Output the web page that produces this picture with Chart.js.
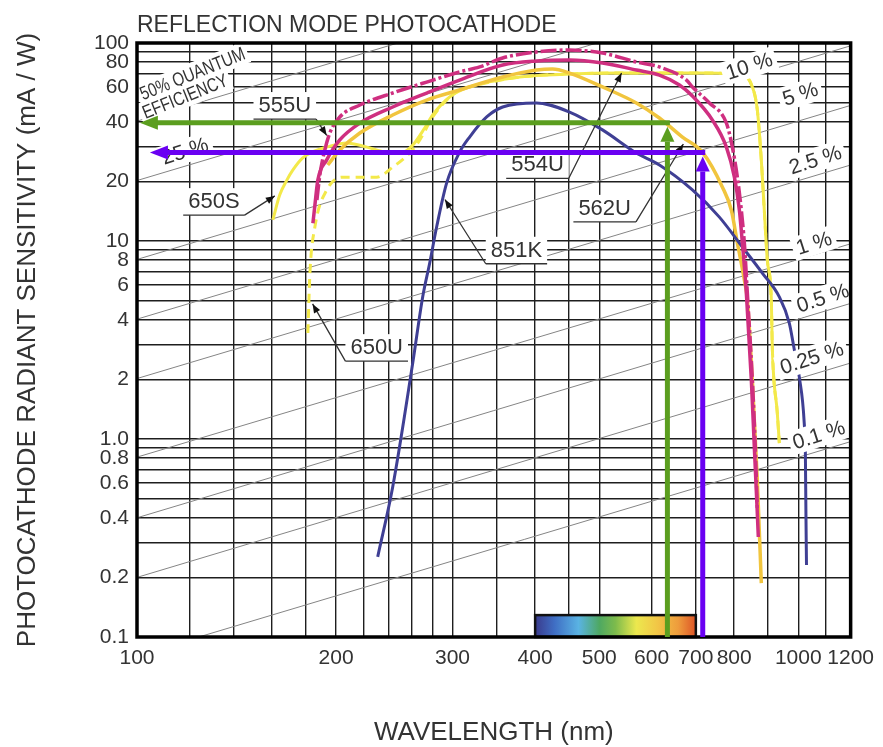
<!DOCTYPE html>
<html>
<head>
<meta charset="utf-8">
<script src="https://cdn.jsdelivr.net/npm/chart.js@4.4.0/dist/chart.umd.min.js"></script>
<style>
  html, body { margin: 0; padding: 0; background: #fff; }
</style>
</head>
<body>
<canvas id="chart" width="883" height="747"></canvas>
<script>
// axis grid + tick labels
const xGrid = [100, 120, 140, 160, 180, 200, 220, 240, 260, 280, 300, 350, 400, 450, 500, 600, 700, 800, 900, 1000, 1100, 1200];
const xTickLabels = [100, 200, 300, 400, 500, 600, 700, 800, 1000, 1200];
const yGrid = [0.1, 0.2, 0.3, 0.4, 0.5, 0.6, 0.7, 0.8, 0.9, 1, 2, 3, 4, 5, 6, 7, 8, 9, 10, 20, 30, 40, 50, 60, 70, 80, 90, 100];
const yTickValues = [0.1, 0.2, 0.4, 0.6, 0.8, 1, 2, 4, 6, 8, 10, 20, 40, 60, 80, 100];
const yTickText = ['0.1', '0.2', '0.4', '0.6', '0.8', '1.0', '2', '4', '6', '8', '10', '20', '40', '60', '80', '100'];

// photocathode curves (wavelength nm, sensitivity mA/W)
const wl555U = [187.1, 189, 192.3, 195.7, 202.6, 217.3, 243.6, 274.2, 307.5, 329.7, 357.2, 402, 451, 505.7, 569.1, 616.6, 677.4, 691.7, 733.9, 778.6, 794.9, 808.9, 820.2, 828.8, 837.5, 852.2, 861, 867.1];
const s555U = [16.1, 21.5, 28.8, 35.1, 42.3, 48.6, 55.9, 63.5, 71.4, 75.7, 84, 90.1, 92.2, 89, 80.2, 75.7, 65, 60, 49.8, 39.4, 29.8, 21, 14.3, 9.77, 5.46, 1.99, 0.91, 0.44];

const wl554U = [184.5, 185.8, 187.7, 193.6, 202.6, 217.3, 243.6, 274.2, 307.5, 357.2, 402, 451, 505.7, 569.1, 616.6, 661.1, 691.7, 741.7, 778.6, 800.6, 814.6, 823.1, 834.6, 849.2, 858.1, 867.1, 870.1];
const s554U = [12.3, 15.2, 20.3, 25.7, 32.4, 39.4, 47.5, 55.9, 65, 77.4, 81.1, 82.1, 79.3, 73, 68.9, 61.4, 54, 40.8, 29.8, 21, 14.3, 9.77, 5.46, 1.99, 0.91, 0.42, 0.32];

const wl562U = [194.3, 202.6, 217.3, 243.6, 274.2, 307.5, 357.2, 402, 425, 451, 505.7, 569.1, 616.6, 668.1, 716.1, 767.9, 792.2, 808.9, 828.8, 837.5, 852.2, 867.1, 879.2];
const s562U = [24.2, 28.8, 35.1, 43.3, 51.5, 57.9, 67.3, 73, 73.9, 70.5, 60, 49.8, 41.8, 33.5, 28.1, 18.7, 14.3, 9.77, 6.36, 5.04, 1.99, 0.62, 0.187];

const wl650S = [160.5, 164.4, 168.5, 172, 178.1, 185.8, 193.6, 207.6, 222.6, 238.6, 252.2, 261.2, 272.3, 280, 297, 318.4, 378.9, 451, 536.6, 708.6, 814.6, 852.2, 867.1, 879.2, 888.4, 897.8, 910.4, 913.5, 929.6, 936.1];
const s650S = [12.8, 17.1, 20.3, 22.8, 26.3, 28.5, 29.8, 31.3, 29.8, 28.1, 28.1, 30.5, 37.2, 43.3, 53.4, 60, 67.3, 69.7, 70.5, 70.5, 69.7, 60, 45.9, 25.7, 14.3, 8.02, 5.04, 2.91, 1.35, 0.954];

const wl650U = [181.3, 182.6, 185.8, 193.6, 204.7, 217.3, 230.4, 243.6, 258.4, 267.7, 280, 293.9, 307.5, 318.4, 378.9, 451, 536.6, 708.6, 814.6, 852.2, 867.1, 879.2, 888.4, 897.8, 910.4, 913.5, 929.6, 936.1];
const s650U = [3.43, 6.89, 11.8, 18.1, 21, 21, 21, 23.6, 27.8, 32.4, 42.3, 51.5, 57.9, 60, 67.3, 69.7, 70.5, 70.5, 69.7, 60, 45.9, 25.7, 14.3, 8.02, 5.04, 2.91, 1.35, 0.954];

const wl851K = [231.2, 243.6, 261.2, 270.4, 277.1, 283.9, 293.9, 307.5, 318.4, 337.9, 357.2, 402, 451, 505.7, 569.1, 616.6, 691.7, 759.8, 823.1, 882.3, 936.1, 969.2, 986.3, 1003.5, 1021, 1025, 1027, 1029];
const s851K = [0.254, 0.572, 2.42, 5.22, 7.74, 11.8, 19.6, 28.1, 33.5, 42.3, 47.5, 49.8, 44.8, 36.4, 27.8, 24.2, 18.1, 13.2, 9.33, 6.89, 5.22, 3.85, 2.82, 2.06, 1.2, 0.85, 0.42, 0.231];

// quantum efficiency guide lines (start / end points) and their labels
const qeText = ['50%', '25 %', '10 %', '5 %', '2.5 %', '1 %', '0.5 %', '0.25 %', '0.1 %'];
const qeStart = [[100, 40.3], [100, 20.2], [100, 8.07], [100, 4.03], [100, 2.02], [100, 0.81], [100, 0.40], [100, 0.20], [124, 0.1]];
const qeEnd = [[248, 100], [496, 100], [1200, 96.8], [1200, 48.4], [1200, 24.2], [1200, 9.68], [1200, 4.84], [1200, 2.42], [1200, 0.97]];
const qeLabelAt = [null, [118.2, 28.5], [842.6, 76.5], [1007, 55.3], [1061, 25.7], [1056, 9.77], [1089, 5.16], [1048, 2.57], [1074, 1.05]];
const qeTitleAt = [[121.3, 70.0], [118.2, 53.8]];

// curve name labels
const curveLabels = ['555U', '650S', '851K', '554U', '562U', '650U'];
const curveLabelAt = [[167.3, 48.6], [130.7, 15.9], [374.8, 9.03], [403.3, 24.4], [509.6, 14.7], [230.4, 2.91]];
const curveLabelTip = [[193.6, 34.1], [161.6, 16.9], [292.2, 16.2], [540.5, 70.5], [670.2, 30.9], [184.3, 4.81]];
const curveLabelSide = ['right', 'right', 'left', 'right', 'right', 'left'];

// highlight arrows (corner wavelength, sensitivity, arrow tip wavelength)
const arrowWl = [634, 717];
const arrowSens = [39.5, 28];
const arrowTipWl = [101, 104.6];
const arrowColors = ['#5b9e1f', '#6a00f2'];

// visible spectrum strip
const spectrumRange = [400, 700];
const spectrumTop = 0.129;

const FONT = '"Liberation Sans", Arial, Helvetica, sans-serif';
const TXT = '#333';

function pts(xs, ys) {
    return xs.map((x, i) => ({ x: x, y: ys[i] }));
}

let datasets = [];
qeStart.forEach((p, i) => {
    datasets.push({
        label: 'QE ' + qeText[i],
        data: [{ x: p[0], y: p[1] }, { x: qeEnd[i][0], y: qeEnd[i][1] }],
        borderColor: '#858585', borderWidth: 1, pointRadius: 0, order: 20
    });
});
datasets.push(
    { label: '650S', data: pts(wl650S, s650S), borderColor: '#f3e94a', borderWidth: 3, order: 6 },
    { label: '650U', data: pts(wl650U, s650U), borderColor: '#f3e94a', borderWidth: 3, borderDash: [9, 6], order: 5 },
    { label: '562U', data: pts(wl562U, s562U), borderColor: '#f1c53e', borderWidth: 3.5, order: 4 },
    { label: '851K', data: pts(wl851K, s851K), borderColor: '#3f3f94', borderWidth: 3, order: 3 },
    { label: '554U', data: pts(wl554U, s554U), borderColor: '#cf2f80', borderWidth: 3.5, order: 2 },
    { label: '555U', data: pts(wl555U, s555U), borderColor: '#cf2f80', borderWidth: 3.5, borderDash: [16, 3, 3, 3], order: 1 }
);
datasets.forEach(d => {
    d.pointRadius = 0;
    d.fill = false;
    if (d.order < 20) d.cubicInterpolationMode = 'monotone';
});

function arrowHead(ctx, x, y, ang, len, hw) {
    ctx.beginPath();
    ctx.moveTo(x, y);
    ctx.lineTo(x - len * Math.cos(ang) + hw * Math.sin(ang), y - len * Math.sin(ang) - hw * Math.cos(ang));
    ctx.lineTo(x - len * Math.cos(ang) - hw * Math.sin(ang), y - len * Math.sin(ang) + hw * Math.cos(ang));
    ctx.closePath();
    ctx.fill();
}

const overlay = {
    id: 'overlay',
    beforeDatasetsDraw(chart) {
        const ctx = chart.ctx, xs = chart.scales.x, ys = chart.scales.y;
        const x0 = xs.getPixelForValue(spectrumRange[0]), x1 = xs.getPixelForValue(spectrumRange[1]);
        const y0 = ys.getPixelForValue(spectrumTop), y1 = ys.getPixelForValue(0.1);
        const g = ctx.createLinearGradient(x0, 0, x1, 0);
        g.addColorStop(0, '#3a3a8c');
        g.addColorStop(0.12, '#3f6ec4');
        g.addColorStop(0.27, '#5ab3e3');
        g.addColorStop(0.40, '#4ea862');
        g.addColorStop(0.50, '#7dbb4c');
        g.addColorStop(0.63, '#ece84e');
        g.addColorStop(0.76, '#f2c646');
        g.addColorStop(0.89, '#ee9c3c');
        g.addColorStop(1, '#dd5426');
        ctx.save();
        ctx.fillStyle = g;
        ctx.fillRect(x0, y0, x1 - x0, y1 - y0);
        ctx.strokeStyle = '#111';
        ctx.lineWidth = 2.5;
        ctx.strokeRect(x0, y0, x1 - x0, y1 - y0);
        ctx.restore();
    },
    afterDatasetsDraw(chart) {
        const ctx = chart.ctx, xs = chart.scales.x, ys = chart.scales.y, area = chart.chartArea;
        const px = v => xs.getPixelForValue(v), py = v => ys.getPixelForValue(v);
        ctx.save();

        // QE labels on the guide lines
        ctx.font = '21px ' + FONT;
        qeLabelAt.forEach((p, i) => {
            if (!p) return;
            ctx.save();
            ctx.translate(px(p[0]), py(p[1]));
            ctx.rotate(-18 * Math.PI / 180);
            const w = ctx.measureText(qeText[i]).width;
            ctx.fillStyle = '#fff';
            ctx.fillRect(-w / 2 - 4, -12, w + 8, 24);
            ctx.fillStyle = TXT;
            ctx.textAlign = 'center';
            ctx.textBaseline = 'middle';
            ctx.fillText(qeText[i], 0, 1);
            ctx.restore();
        });

        // "50% QUANTUM EFFICIENCY"
        const qeTitle = ['50% QUANTUM', 'EFFICIENCY'];
        ctx.font = '19px ' + FONT;
        qeTitle.forEach((t, i) => {
            ctx.save();
            ctx.translate(px(qeTitleAt[i][0]), py(qeTitleAt[i][1]));
            ctx.rotate(-22 * Math.PI / 180);
            ctx.scale(0.8, 1);
            const w = ctx.measureText(t).width;
            ctx.fillStyle = '#fff';
            ctx.fillRect(-w / 2 - 4, -11, w + 8, 22);
            ctx.fillStyle = TXT;
            ctx.textAlign = 'center';
            ctx.textBaseline = 'middle';
            ctx.fillText(t, 0, 1);
            ctx.restore();
        });

        // curve name labels with leader lines
        ctx.font = '22px ' + FONT;
        curveLabels.forEach((t, i) => {
            const cx = px(curveLabelAt[i][0]), cy = py(curveLabelAt[i][1]);
            const tx = px(curveLabelTip[i][0]), ty = py(curveLabelTip[i][1]);
            const w = ctx.measureText(t).width;
            ctx.fillStyle = '#fff';
            ctx.fillRect(cx - w / 2 - 5, cy - 13, w + 10, 27);
            ctx.fillStyle = TXT;
            ctx.textAlign = 'center';
            ctx.textBaseline = 'middle';
            ctx.fillText(t, cx, cy + 1);
            const uy = cy + 14;
            const sx = curveLabelSide[i] === 'right' ? cx + w / 2 + 5 : cx - w / 2 - 5;
            ctx.strokeStyle = '#333';
            ctx.lineWidth = 1.3;
            ctx.beginPath();
            ctx.moveTo(cx - w / 2 - 5, uy);
            ctx.lineTo(cx + w / 2 + 5, uy);
            ctx.moveTo(sx, uy);
            ctx.lineTo(tx, ty);
            ctx.stroke();
            ctx.fillStyle = '#111';
            arrowHead(ctx, tx, ty, Math.atan2(ty - uy, tx - sx), 9, 3.5);
        });

        // plot frame
        ctx.strokeStyle = '#000';
        ctx.lineWidth = 3.5;
        ctx.strokeRect(area.left, area.top, area.right - area.left, area.bottom - area.top);

        // highlight arrows
        arrowWl.forEach((wl, i) => {
            const cx = px(wl), cy = py(arrowSens[i]), tipX = px(arrowTipWl[i]);
            const head = 15, hw = 7;
            ctx.strokeStyle = arrowColors[i];
            ctx.fillStyle = arrowColors[i];
            ctx.lineWidth = 5;
            ctx.beginPath();
            ctx.moveTo(cx, area.bottom);
            ctx.lineTo(cx, cy + 4 + head);
            ctx.moveTo(cx + 2.5, cy);
            ctx.lineTo(tipX + head, cy);
            ctx.stroke();
            arrowHead(ctx, cx, cy + 4, -Math.PI / 2, head, hw);
            arrowHead(ctx, tipX, cy, Math.PI, head + 3, hw);
        });

        ctx.restore();
    },
    afterDraw(chart) {
        const ctx = chart.ctx, area = chart.chartArea;
        ctx.save();
        ctx.font = '23px ' + FONT;
        ctx.fillStyle = TXT;
        ctx.textAlign = 'left';
        ctx.textBaseline = 'alphabetic';
        ctx.fillText('REFLECTION MODE PHOTOCATHODE', area.left, 32);
        ctx.restore();
    }
};

new Chart(document.getElementById('chart'), {
    type: 'line',
    data: { datasets: datasets },
    options: {
        responsive: false,
        animation: false,
        devicePixelRatio: 1,
        layout: { padding: { top: 43, right: 31, bottom: 0, left: 0 } },
        plugins: { legend: { display: false }, tooltip: { enabled: false }, title: { display: false } },
        scales: {
            x: {
                type: 'logarithmic', min: 100, max: 1200,
                afterBuildTicks: s => { s.ticks = xGrid.map(v => ({ value: v })); },
                afterFit: s => { s.height = 110; },
                grid: { color: '#1e1e1e', lineWidth: 1.4, drawTicks: false },
                border: { display: false },
                ticks: {
                    autoSkip: false, maxRotation: 0, minRotation: 0, padding: 9, color: TXT,
                    font: { family: FONT, size: 21 },
                    callback: v => xTickLabels.includes(v) ? String(v) : ''
                },
                title: {
                    display: true, text: 'WAVELENGTH (nm)', color: TXT,
                    font: { family: FONT, size: 26, lineHeight: 1 }, padding: { top: 0, bottom: 1 }
                }
            },
            y: {
                type: 'logarithmic', min: 0.1, max: 100,
                afterBuildTicks: s => { s.ticks = yGrid.map(v => ({ value: v })); },
                afterFit: s => { s.width = 137; },
                grid: { color: '#1e1e1e', lineWidth: 1.4, drawTicks: false },
                border: { display: false },
                ticks: {
                    autoSkip: false, padding: 8, color: TXT,
                    font: { family: FONT, size: 21 },
                    callback: v => {
                        const k = yTickValues.findIndex(t => Math.abs(t - v) < 1e-9);
                        return k >= 0 ? yTickText[k] : '';
                    }
                },
                title: {
                    display: true, text: 'PHOTOCATHODE RADIANT SENSITIVITY (mA / W)', color: TXT,
                    font: { family: FONT, size: 26, lineHeight: 1 }, padding: { top: 15, bottom: 0 }
                }
            }
        }
    },
    plugins: [overlay]
});
</script>
</body>
</html>
